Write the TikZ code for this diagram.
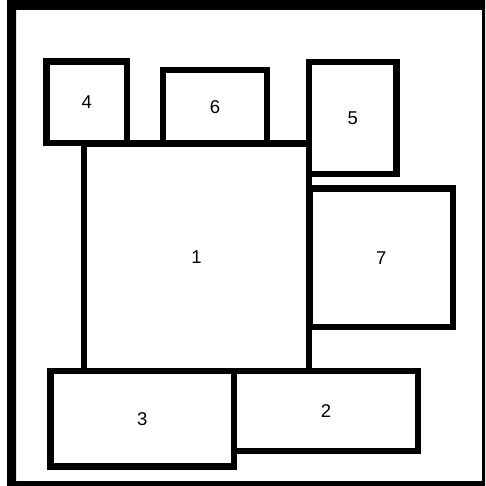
\documentclass[tikz,border=0pt]{standalone}
\usepackage{fontspec}
\setmainfont{Liberation Sans}
\begin{document}
\begin{tikzpicture}[x=1pt,y=-1pt,
  boxs/.style={draw=black, line width=6.5pt, rectangle, inner sep=0pt,
    font=\fontsize{18.5}{20}\selectfont}]
\useasboundingbox (0,0) rectangle (486,486);
\fill[white] (0,0) rectangle (486,486);
% outer frame
\fill[black, even odd rule] (7,0) rectangle (485,486) (16,10) rectangle (482,481);
% boxes
\node[boxs, minimum width=80.5pt, minimum height=81.5pt] (b4) at (86.75,102.25) {4};
\node[boxs, minimum width=104pt, minimum height=73.5pt] (b6) at (215,106.75) {6};
\node[boxs, minimum width=87.5pt, minimum height=112pt] (b5) at (352.75,118) {5};
\node[boxs, minimum width=225pt, minimum height=227.5pt] (b1) at (196.5,257.25) {1};
\node[boxs, minimum width=143.5pt, minimum height=138.5pt] (b7) at (381.25,257.75) {7};
\node[boxs, minimum width=183.5pt, minimum height=95.5pt] (b3) at (142.25,418.75) {3};
\node[boxs, minimum width=184pt, minimum height=80pt] (b2) at (326,411) {2};
\end{tikzpicture}
\end{document}
